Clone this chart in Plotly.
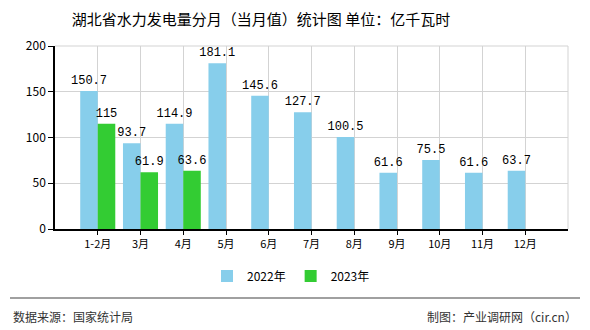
import plotly.graph_objects as go

categories = ["1-2月", "3月", "4月", "5月", "6月", "7月", "8月", "9月", "10月", "11月", "12月"]
values_2022 = [150.7, 93.7, 114.9, 181.1, 145.6, 127.7, 100.5, 61.6, 75.5, 61.6, 63.7]
values_2023 = [115, 61.9, 63.6, None, None, None, None, None, None, None, None]
y_ticks = [0, 50, 100, 150, 200]

W, H = 590, 330
L, R, T, B = 55, 22, 46, 101
pw, ph = W - L - R, H - T - B

def px_x(x):
    return (x - L) / pw

def px_y(y):
    return (H - B - y) / ph

label_font = dict(family="Liberation Mono, DejaVu Sans Mono, monospace", size=12, color="#000")

fig = go.Figure()
fig.add_trace(go.Bar(
    name="2022年", x=categories, y=values_2022, marker_color="#87CEEB",
    marker_line_width=0,
    text=[f"{v:g}" for v in values_2022], textposition="outside",
    textfont=label_font, cliponaxis=False, constraintext="none",
))
fig.add_trace(go.Bar(
    name="2023年", x=categories, y=values_2023, marker_color="#33CC33",
    marker_line_width=0,
    text=[f"{v:g}" if v is not None else "" for v in values_2023], textposition="outside",
    textfont=label_font, cliponaxis=False, constraintext="none",
))

fig.update_layout(
    width=W, height=H,
    margin=dict(l=L, r=R, t=T, b=B, autoexpand=False),
    paper_bgcolor="white", plot_bgcolor="white",
    barmode="group", bargap=0.18, bargroupgap=0,
    font=dict(family="Noto Sans CJK SC, sans-serif", size=11, color="#000"),
    title=dict(
        text="湖北省水力发电量分月（当月值）统计图 单位：亿千瓦时",
        x=261 / W, xref="container", xanchor="center",
        y=1 - 20 / H, yref="container", yanchor="middle",
        font=dict(size=15, color="#000"),
    ),
    legend=dict(
        orientation="h", x=291 / W, xref="container", xanchor="center",
        y=1 - 276 / H, yref="container", yanchor="middle",
        font=dict(size=12, color="#000"), itemwidth=30, traceorder="normal",
    ),
    xaxis=dict(
        type="category", range=[-1, 11],
        showgrid=True, gridcolor="#d3d3d3", gridwidth=1,
        showline=True, linecolor="#000", linewidth=1.5,
        ticks="outside", ticklen=4, tickcolor="#000",
        tickfont=dict(size=11), zeroline=False,
    ),
    yaxis=dict(
        range=[0, 200], tickvals=y_ticks,
        showgrid=True, gridcolor="#d3d3d3", gridwidth=1,
        showline=True, linecolor="#000", linewidth=1.5,
        ticks="outside", ticklen=5, tickcolor="#000",
        tickfont=dict(size=12), zeroline=False,
    ),
    shapes=[
        dict(type="line", xref="paper", yref="paper", x0=0, x1=1, y0=1, y1=1,
             line=dict(color="#d3d3d3", width=1)),
        dict(type="line", xref="paper", yref="paper", x0=1, x1=1, y0=0, y1=1,
             line=dict(color="#d3d3d3", width=1)),
        dict(type="line", xref="paper", yref="paper", x0=px_x(10), x1=px_x(580),
             y0=px_y(298), y1=px_y(298), line=dict(color="#808080", width=1.5)),
    ],
    annotations=[
        dict(text="数据来源：国家统计局", xref="paper", yref="paper",
             x=px_x(11), y=px_y(316), xanchor="left", yanchor="middle",
             showarrow=False, font=dict(size=12, color="#333")),
        dict(text="制图：产业调研网（cir.cn）", xref="paper", yref="paper",
             x=px_x(579), y=px_y(316), xanchor="right", yanchor="middle",
             showarrow=False, font=dict(size=12, color="#333")),
    ],
)

fig.write_html("out.html")
